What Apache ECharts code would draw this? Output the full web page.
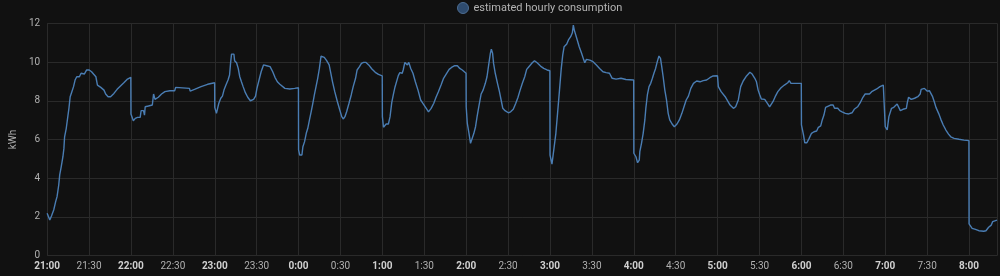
<!DOCTYPE html>
<html>
<head>
<meta charset="utf-8">
<script src="https://cdn.jsdelivr.net/npm/echarts@6/dist/echarts.min.js"></script>
<style>
html,body{margin:0;padding:0;background:#111111;}
#c{width:1000px;height:276px;}
</style>
</head>
<body>
<div id="c"></div>
<script>
// minutes since 21:00
const minutes = [
0,1.9,3.1,4.7,6.1,7.1,8.3,9.0,10.1,11.3,12.0,12.5,13.7,14.8,15.6,16.5,17.7,18.9,20.0,21.2,23.1,24.3,26.6,28.3,30.1,31.8,33.2,34.9,36.0,38.4,40.7,41.9,43.6,45.4,47.8,50.1,52.5,54.9,57.2,59.9,
60.0,61.7,63.1,64.7,66.6,67.3,69.0,69.7,70.2,72.5,75.3,76.2,77.2,79.6,81.9,84.3,87.8,91.3,92.0,93.2,101.9,102.4,105.5,110.2,114.9,119.9,
120.0,121.2,122.4,122.9,124.3,125.5,126.6,128.0,129.5,130.6,131.3,132.0,133.7,134.2,135.6,136.8,137.9,139.1,140.3,141.9,143.6,145.5,147.8,149.2,150.2,151.8,153.2,154.9,157.2,159.6,161.5,163.1,164.8,166.6,167.8,170.2,173.7,177.2,179.9,
180.0,180.8,182.4,183.1,184.3,185.5,186.6,187.8,189.0,190.2,191.3,192.5,193.7,194.9,196.1,197.2,198.4,200.1,201.5,201.9,203.1,204.3,205.9,207.8,209.5,210.9,212.1,213.2,214.4,216.1,217.7,219.1,220.8,221.9,223.6,225.0,226.6,228.3,230.2,232.5,234.9,237.2,239.9,
240.0,240.8,241.9,242.7,244.3,245.5,246.7,247.8,249.0,250.2,251.4,252.5,253.2,254.2,254.9,256.1,257.9,258.9,260.3,261.9,263.6,265.5,267.4,269.0,271.4,273.0,274.9,276.8,278.4,280.1,282.0,283.8,286.0,287.8,289.5,291.8,293.7,295.4,297.2,299.9,
300.0,300.8,302.0,303.1,304.3,305.5,306.7,307.8,309.0,310.7,312.1,313.7,314.9,316.1,317.3,318.0,318.9,319.6,320.8,322.4,323.8,325.0,326.2,327.8,330.2,331.8,333.7,335.5,337.1,338.6,340.2,341.9,343.3,344.9,347.3,348.9,350.8,353.2,355.5,357.9,359.9,
360.0,361.4,362.6,363.0,364.2,365.4,366.8,368.0,369.1,370.1,372.0,373.2,374.8,376.0,376.7,377.4,378.6,379.5,380.9,382.6,384.2,384.9,386.1,388.5,390.8,393.2,395.5,397.9,400.2,402.6,404.5,407.3,410.8,414.3,415.5,419.9,
420.0,421.5,422.7,423.9,424.3,425.5,426.7,427.9,428.6,429.7,430.9,432.1,433.3,434.4,435.6,436.8,438.0,439.1,439.8,441.0,442.2,443.4,444.6,445.7,447.4,449.0,450.9,452.6,454.4,456.1,457.5,459.1,460.8,462.7,465.0,467.4,469.7,472.1,474.4,476.8,479.9,
480.5,482.5,485.4,488.9,491.3,492.9,494.8,496.5,498.3,500.7,503.1,504.7,506.6,507.8,509.0,510.2,511.3,513.7,514.9,516.0,517.2,518.4,519.6,521.2,523.1,525.4,527.8,530.2,531.3,532.5,539.9,
540.0,541.5,542.4,543.9,545.5,547.2,549.0,550.9,552.1,553.8,554.9,556.1,557.3,558.0,560.8,562.7,563.7,566.0,567.4,569.1,571.4,573.8,576.2,577.8,580.2,582.1,584.0,585.6,586.8,588.7,590.3,593.9,596.2,598.6,599.9,
600.0,601.4,602.1,602.6,603.8,604.5,606.1,607.5,608.5,609.9,610.8,612.7,615.1,615.8,616.7,618.6,621.0,623.3,625.0,625.7,628.0,629.2,629.9,631.6,632.8,633.9,635.1,636.3,638.2,639.8,641.5,643.4,645.3,646.9,649.3,652.8,656.3,659.9,
660.0,662.2,664.6,667.0,670.5,672.1,674.0,675.9,676.9,678.3,680.0
];
const kwh = [
2.19,1.84,2.05,2.36,2.79,3.05,3.65,4.17,4.6,5.11,5.54,6.14,6.58,7.18,7.61,8.21,8.47,8.73,9.07,9.24,9.24,9.42,9.38,9.59,9.59,9.5,9.38,9.24,8.81,8.69,8.55,8.35,8.21,8.21,8.38,8.59,8.76,8.93,9.1,9.21,
7.32,6.97,7.09,7.14,7.14,7.49,7.49,7.26,7.69,7.73,7.78,8.35,8.07,8.18,8.35,8.47,8.52,8.52,8.69,8.64,8.64,8.5,8.59,8.73,8.85,8.93,
7.66,7.35,7.38,7.87,8.13,8.24,8.55,8.81,9.07,9.33,9.93,10.41,10.41,10.07,9.96,9.67,9.24,8.98,8.73,8.42,8.18,8.0,8.07,8.24,8.64,9.1,9.5,9.85,9.81,9.76,9.5,9.21,8.98,8.85,8.78,8.64,8.61,8.64,8.67,
5.46,5.2,5.2,5.63,5.89,6.32,6.58,7.01,7.43,7.87,8.3,8.73,9.16,9.67,10.31,10.35,10.24,10.07,10.14,9.85,9.42,8.98,8.47,7.95,7.52,7.18,7.06,7.18,7.43,7.87,8.3,8.73,9.16,9.59,9.76,9.93,9.98,9.98,9.85,9.64,9.47,9.36,9.28,
7.18,6.63,6.63,6.8,6.8,7.18,7.9,8.3,8.7,9.0,9.3,9.45,9.55,9.42,9.59,9.98,9.85,9.98,9.67,9.42,8.98,8.55,8.04,7.87,7.61,7.43,7.61,7.87,8.18,8.47,8.81,9.16,9.42,9.62,9.72,9.81,9.81,9.67,9.59,9.42,
7.69,6.83,6.32,5.8,5.8,6.32,6.66,7.18,7.69,8.35,8.55,8.9,9.24,9.85,10.45,10.66,10.45,9.93,9.42,8.9,8.47,8.04,7.61,7.49,7.38,7.43,7.56,7.87,8.18,8.55,8.9,9.24,9.62,9.76,9.96,10.07,9.96,9.79,9.67,9.59,9.55,
5.2,4.73,4.73,5.63,6.32,7.35,8.55,9.62,10.36,10.79,10.93,11.14,11.31,11.51,11.91,11.65,11.56,11.14,10.79,10.45,10.1,9.96,10.14,10.1,10.02,9.85,9.67,9.5,9.45,9.42,9.16,9.12,9.16,9.1,9.04,9.07,
5.29,5.11,4.8,4.94,5.37,5.8,6.32,7.01,7.61,8.3,8.73,8.9,9.16,9.42,9.67,10.02,10.31,10.19,9.85,9.24,8.55,8.04,7.35,7.01,6.8,6.66,6.8,7.01,7.35,7.73,8.04,8.24,8.64,8.9,9.02,8.98,9.04,9.07,9.19,9.28,9.29,
8.73,8.47,8.21,7.78,7.61,7.69,8.04,8.73,9.02,9.28,9.47,9.38,9.16,8.98,8.55,8.3,8.09,8.07,8.04,7.83,7.69,7.78,7.95,8.21,8.47,8.67,8.81,8.93,9.04,8.9,8.9,
6.75,6.23,5.83,5.83,6.06,6.32,6.4,6.44,6.63,6.7,7.01,7.26,7.66,7.74,7.78,7.78,7.61,7.61,7.49,7.43,7.35,7.32,7.38,7.56,7.69,7.9,8.18,8.35,8.42,8.35,8.47,8.61,8.73,8.81,8.85,
6.66,6.49,6.4,7.18,7.26,7.61,7.66,7.61,7.83,7.78,7.49,7.56,7.61,7.9,8.18,8.07,8.13,8.21,8.35,8.59,8.64,8.67,8.5,8.52,8.42,8.21,7.95,7.66,7.35,7.04,6.75,6.49,6.28,6.14,6.06,6.01,5.97,5.94,
1.64,1.41,1.36,1.29,1.26,1.29,1.47,1.58,1.76,1.84,1.84
];
// x tick labels every 30 minutes from 21:00
const tickLabels = ['21:00','21:30','22:00','22:30','23:00','23:30','0:00','0:30','1:00','1:30','2:00','2:30','3:00','3:30','4:00','4:30','5:00','5:30','6:00','6:30','7:00','7:30','8:00'];
const seriesName = 'estimated hourly consumption';

const chart = echarts.init(document.getElementById('c'), null, {renderer:'canvas'});
const data = minutes.map((m,i)=>[m,kwh[i]]);
chart.setOption({
  backgroundColor:'#111111',
  animation:false,
  textStyle:{fontFamily:'Roboto, sans-serif'},
  legend:{
    data:[{name:seriesName, icon:'circle'}],
    left:452, top:-3,
    itemWidth:11, itemHeight:11, itemGap:5,
    textStyle:{color:'#b3b3b3', fontSize:11, fontFamily:'Roboto, sans-serif'},
    itemStyle:{color:'#2e4b6e', borderColor:'#4d6d92', borderWidth:1}
  },
  grid:{left:37.5, right:1.7, top:23.3, bottom:20.3, containLabel:false},
  xAxis:{
    type:'value', min:0, max:680, interval:30,
    axisLine:{show:false}, axisTick:{show:false},
    splitLine:{show:true, lineStyle:{color:'#2a2a2a', width:1}},
    axisLabel:{
      margin:6, fontSize:10, color:'#c0c0c0',
      formatter:function(v){
        if (v % 30 !== 0) return '';
        const lab = tickLabels[v/30];
        if (!lab) return '';
        return (v % 60 === 0) ? '{b|'+lab+'}' : '{n|'+lab+'}';
      },
      rich:{
        b:{fontWeight:'bold', color:'#d0d0d0', fontSize:10, fontFamily:'Roboto, sans-serif'},
        n:{color:'#b0b0b0', fontSize:10, fontFamily:'Roboto, sans-serif'}
      }
    }
  },
  yAxis:{
    type:'value', min:0, max:12, interval:2,
    name:'kWh', nameLocation:'middle', nameGap:22, nameRotate:90,
    nameTextStyle:{color:'#b0b0b0', fontSize:10},
    axisLine:{show:false}, axisTick:{show:false},
    splitLine:{show:true, lineStyle:{color:'#2a2a2a', width:1}},
    axisLabel:{margin:7, fontSize:10, color:'#b0b0b0'}
  },
  series:[{
    name:seriesName, type:'line', data:data, showSymbol:false, symbol:'none',
    lineStyle:{color:'#4a7db3', width:1.4},
    itemStyle:{color:'#2e4b6e'}
  }]
});
</script>
</body>
</html>
